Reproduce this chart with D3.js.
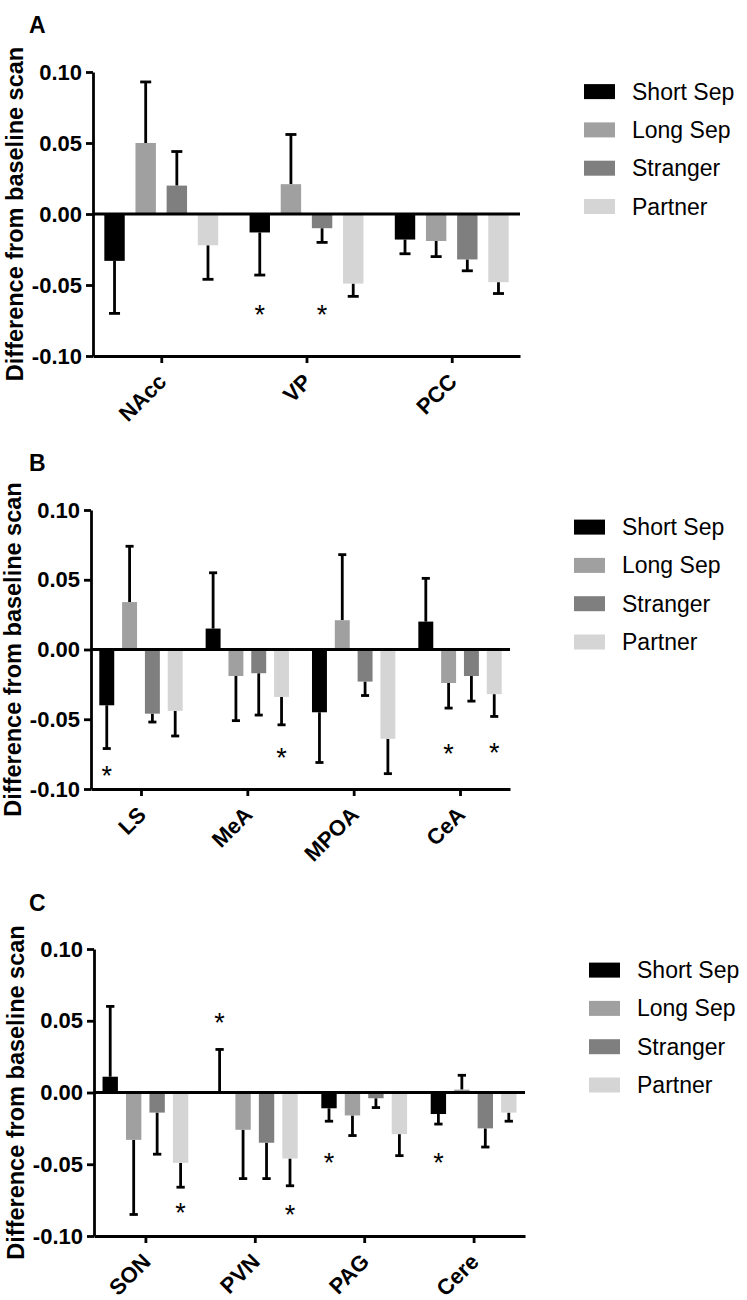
<!DOCTYPE html>
<html><head><meta charset="utf-8">
<script src="https://cdn.jsdelivr.net/npm/d3@7"></script>
<style>body{margin:0;background:#fff} svg{display:block}</style>
</head><body>
<svg id="chart" width="747" height="1300"></svg>
<script>
// ---------- DATA ----------
const seriesNames = ["Short Sep", "Long Sep", "Stranger", "Partner"];
const yTickValues = [-0.10, -0.05, 0.00, 0.05, 0.10];

// Panel A (rows = series, cols = regions)
const regionsA = ["NAcc", "VP", "PCC"];
const meansA = [
  [-0.033, -0.013, -0.018],
  [ 0.050,  0.021, -0.019],
  [ 0.020, -0.010, -0.032],
  [-0.022, -0.049, -0.048]
];
const errorsA = [
  [0.037, 0.030, 0.010],
  [0.043, 0.035, 0.011],
  [0.024, 0.010, 0.008],
  [0.024, 0.009, 0.008]
];
const starsA = [["VP", "Short Sep", -0.067], ["VP", "Stranger", -0.067]];

// Panel B
const regionsB = ["LS", "MeA", "MPOA", "CeA"];
const meansB = [
  [-0.040,  0.015, -0.045,  0.020],
  [ 0.034, -0.019,  0.021, -0.024],
  [-0.046, -0.017, -0.023, -0.019],
  [-0.044, -0.034, -0.064, -0.032]
];
const errorsB = [
  [0.031, 0.040, 0.036, 0.031],
  [0.040, 0.032, 0.047, 0.018],
  [0.006, 0.030, 0.010, 0.018],
  [0.018, 0.020, 0.025, 0.016]
];
const starsB = [["LS", "Short Sep", -0.0865], ["MeA", "Partner", -0.0733],
                ["CeA", "Long Sep", -0.0705], ["CeA", "Partner", -0.0698]];

// Panel C
const regionsC = ["SON", "PVN", "PAG", "Cere"];
const meansC = [
  [ 0.011,  0.000, -0.011, -0.015],
  [-0.033, -0.026, -0.016,  0.002],
  [-0.014, -0.035, -0.004, -0.025],
  [-0.049, -0.046, -0.029, -0.014]
];
const errorsC = [
  [0.049, 0.030, 0.009, 0.007],
  [0.052, 0.034, 0.014, 0.010],
  [0.029, 0.025, 0.0065, 0.013],
  [0.017, 0.019, 0.015, 0.006]
];
const starsC = [["SON", "Partner", -0.0798], ["PVN", "Short Sep", 0.0528],
                ["PVN", "Partner", -0.0814], ["PAG", "Short Sep", -0.0449],
                ["Cere", "Short Sep", -0.0449]];

// ---------- STYLE / LAYOUT ----------
const seriesColors = ["#000000", "#a0a0a0", "#7f7f7f", "#d5d5d5"];
const FONT = "'Liberation Sans', Arial, Helvetica, sans-serif";
const SW = 2.8;

const panels = [
  {letter: "A", regions: regionsA, means: meansA, errors: errorsA, stars: starsA,
   left: 93, right: 520, top: 72, bottom: 356, letterY: 33},
  {letter: "B", regions: regionsB, means: meansB, errors: errorsB, stars: starsB,
   left: 91, right: 510, top: 510, bottom: 789, letterY: 471},
  {letter: "C", regions: regionsC, means: meansC, errors: errorsC, stars: starsC,
   left: 94, right: 525, top: 949, bottom: 1236, letterY: 911}
];

const svg = d3.select("#chart");

panels.forEach(p => drawPanel(p));

function drawPanel(p) {
  const g = svg.append("g");
  const y = d3.scaleLinear().domain([-0.10, 0.10]).range([p.bottom, p.top]);
  const x0 = d3.scalePoint().domain(p.regions).range([p.left, p.right]).padding(0.47);
  const step = x0.step();
  const x1 = d3.scaleBand().domain(seriesNames).range([-0.466 * step, 0.466 * step]).padding(0.345);
  const bw = x1.bandwidth();

  const rows = [];
  seriesNames.forEach((s, si) => {
    p.regions.forEach((r, ri) => {
      rows.push({series: s, si, region: r, v: p.means[si][ri], e: p.errors[si][ri]});
    });
  });

  // error bars
  const eg = g.append("g");
  rows.forEach(d => {
    const cx = x0(d.region) + x1(d.series) + bw / 2;
    const sign = d.v >= 0 ? 1 : -1;
    const end = d.v + sign * d.e;
    eg.append("line").attr("x1", cx).attr("x2", cx)
      .attr("y1", y(d.v)).attr("y2", y(end))
      .attr("stroke", "#000").attr("stroke-width", SW);
    eg.append("line").attr("x1", cx - bw * 0.27).attr("x2", cx + bw * 0.27)
      .attr("y1", y(end)).attr("y2", y(end))
      .attr("stroke", "#000").attr("stroke-width", SW);
  });

  // bars
  g.append("g").selectAll("rect").data(rows).join("rect")
    .attr("x", d => x0(d.region) + x1(d.series))
    .attr("width", bw)
    .attr("y", d => Math.min(y(d.v), y(0)))
    .attr("height", d => Math.abs(y(d.v) - y(0)))
    .attr("fill", d => seriesColors[d.si]);

  // zero line
  g.append("line").attr("x1", p.left).attr("x2", p.right)
    .attr("y1", y(0)).attr("y2", y(0))
    .attr("stroke", "#000").attr("stroke-width", SW);

  // y axis
  const ya = g.append("g").attr("transform", `translate(${p.left},0)`)
    .call(d3.axisLeft(y).tickValues(yTickValues).tickFormat(d => d.toFixed(2))
      .tickSize(7).tickSizeOuter(0).tickPadding(4));
  ya.select(".domain").attr("stroke-width", SW);
  ya.selectAll(".tick line").attr("stroke-width", SW);
  ya.selectAll("text").attr("font-family", FONT).attr("font-size", 22)
    .attr("font-weight", "bold").attr("fill", "#000");

  // x axis
  const xa = g.append("g").attr("transform", `translate(0,${p.bottom})`)
    .call(d3.axisBottom(x0).tickSize(7).tickSizeOuter(0).tickPadding(4));
  xa.select(".domain").attr("stroke-width", SW);
  xa.selectAll(".tick line").attr("stroke-width", SW);
  xa.selectAll("text").attr("font-family", FONT).attr("font-size", 22)
    .attr("font-weight", "bold").attr("fill", "#000")
    .attr("text-anchor", "end").attr("dy", null).attr("y", null)
    .attr("transform", "translate(6,27) rotate(-45)");

  // y title
  g.append("text")
    .attr("transform", `translate(${p.left - 78},${(p.top + p.bottom) / 2}) rotate(-90)`)
    .attr("text-anchor", "middle").attr("dy", "0.35em")
    .attr("font-family", FONT).attr("font-size", 23.5).attr("font-weight", "bold")
    .text("Difference from baseline scan");

  // panel letter
  g.append("text").attr("x", 29).attr("y", p.letterY)
    .attr("font-family", FONT).attr("font-size", 23).attr("font-weight", "bold")
    .text(p.letter);

  // significance stars
  g.append("g").selectAll("text").data(p.stars).join("text")
    .attr("x", d => x0(d[0]) + x1(d[1]) + bw / 2)
    .attr("y", d => y(d[2]) + 15)
    .attr("text-anchor", "middle")
    .attr("font-family", FONT).attr("font-size", 27)
    .text("*");

  // legend
  const lg = g.append("g");
  seriesNames.forEach((s, i) => {
    const cy = y(0) - 7.5 - (3 - i) * 38.3;
    lg.append("rect").attr("x", p.right + 64).attr("y", cy - 7.5)
      .attr("width", 31).attr("height", 15).attr("fill", seriesColors[i]);
    lg.append("text").attr("x", p.right + 112).attr("y", cy + 8)
      .attr("font-family", FONT).attr("font-size", 23).text(s);
  });
}
</script>
</body></html>
